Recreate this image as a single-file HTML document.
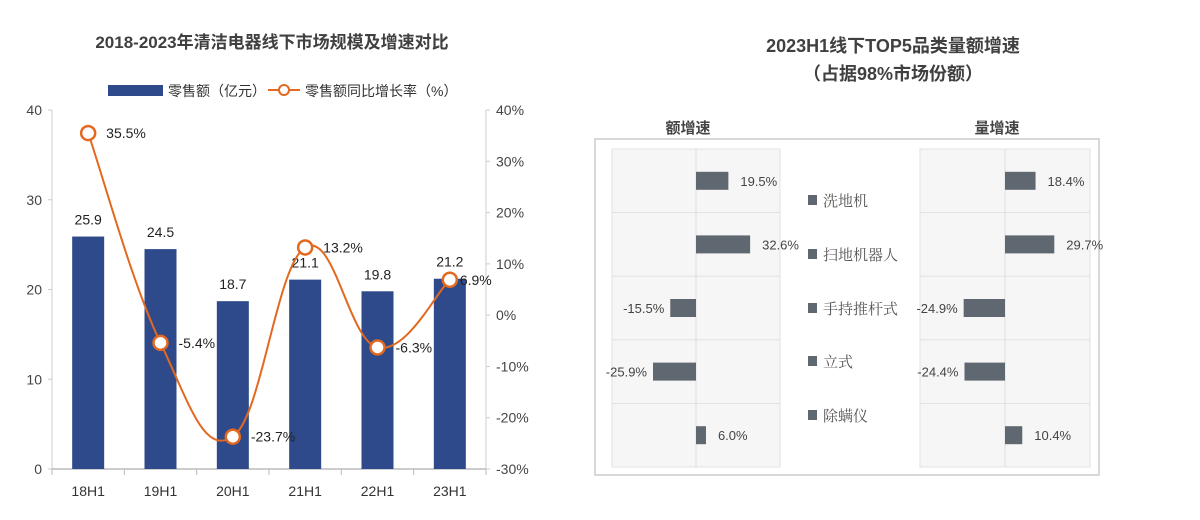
<!DOCTYPE html>
<html><head><meta charset="utf-8"><style>
body{margin:0;background:#fff;}
svg{display:block;font-family:"Liberation Sans","Noto Sans CJK SC",sans-serif;}
</style></head><body>
<svg id="c" width="1200" height="520" viewBox="0 0 1200 520">
<text x="272" y="48" text-anchor="middle" font-size="17" font-weight="bold" fill="#404040">2018-2023年清洁电器线下市场规模及增速对比</text>
<text x="893" y="52" text-anchor="middle" font-size="18" font-weight="bold" fill="#404040">2023H1线下TOP5品类量额增速</text>
<text x="893" y="80" text-anchor="middle" font-size="18" font-weight="bold" fill="#404040">（占据98%市场份额）</text>
<g>
<rect x="108" y="85" width="55" height="11" fill="#2f4a8a"/>
<text x="168" y="96" font-size="14" fill="#333">零售额（亿元）</text>
<line x1="268" y1="90" x2="300" y2="90" stroke="#e2691f" stroke-width="2"/>
<circle cx="284" cy="90" r="5" fill="#fff" stroke="#e2691f" stroke-width="2"/>
<text x="305" y="96" font-size="14" fill="#333">零售额同比增长率（%）</text>
</g>
<g id="left"></g>
<g id="right"></g>
</svg>
<script>
const categories=["18H1","19H1","20H1","21H1","22H1","23H1"];
const salesValues=[25.9,24.5,18.7,21.1,19.8,21.2];
const growthValues=[35.5,-5.4,-23.7,13.2,-6.3,6.9];
const leftTicks=[0,10,20,30,40];
const rightTicks=[-30,-20,-10,0,10,20,30,40];
const products=["洗地机","扫地机器人","手持推杆式","立式","除螨仪"];
const amountGrowth=[19.5,32.6,-15.5,-25.9,6.0];
const volumeGrowth=[18.4,29.7,-24.9,-24.4,10.4];

const NS="http://www.w3.org/2000/svg";
function mk(parent,tag,attrs,text){const e=document.createElementNS(NS,tag);for(const k in attrs)e.setAttribute(k,attrs[k]);if(text!==undefined)e.textContent=text;parent.appendChild(e);return e;}
const L=document.getElementById('left');
const x0=52,x1=486,yTop=110,yBot=469;
const yL=v=>yBot-(v/40)*(yBot-yTop);
const yR=v=>yBot-((v+30)/70)*(yBot-yTop);
const band=(x1-x0)/categories.length;
const xC=i=>x0+band*(i+0.5);
let e;
e=mk(L,'line',{x1:x0,y1:yTop,x2:x0,y2:yBot,stroke:'#ccc'});


e=mk(L,'line',{x1:x1,y1:yTop,x2:x1,y2:yBot,stroke:'#ccc'});


e=mk(L,'line',{x1:x0,y1:yBot,x2:x1,y2:yBot,stroke:'#bbb','stroke-width':1.5});


leftTicks.forEach(t=>{
 mk(L,'line',{x1:x0-4,y1:yL(t),x2:x0,y2:yL(t),stroke:'#ccc'});
 e=mk(L,'text',{x:x0-10,y:yL(t)+5,'text-anchor':'end','font-size':14,fill:'#444'},t);
 
 
});
rightTicks.forEach(t=>{
 mk(L,'line',{x1:x1,y1:yR(t),x2:x1+4,y2:yR(t),stroke:'#ccc'});
 e=mk(L,'text',{x:x1+10,y:yR(t)+5,'font-size':14,fill:'#444'},t+'%');
 
 
});
for(let i=0;i<=categories.length;i++)mk(L,'line',{x1:x0+band*i,y1:yBot,x2:x0+band*i,y2:yBot+6,stroke:'#bbb'});
categories.forEach((c,i)=>{
 e=mk(L,'text',{x:xC(i),y:496,'text-anchor':'middle','font-size':14,fill:'#333'},c);
 
 
 const v=salesValues[i];
 e=mk(L,'rect',{x:xC(i)-16,y:yL(v),width:32,height:yBot-yL(v),fill:'#2f4a8a'});
 
 
 e=mk(L,'text',{x:xC(i),y:yL(v)-12,'text-anchor':'middle','font-size':14,fill:'#222'},v.toFixed(1));
 
 
});
const pts=growthValues.map((v,i)=>[xC(i),yR(v)]);
let d='M'+pts[0][0]+','+pts[0][1];
for(let i=0;i<pts.length-1;i++){
 const p0=pts[Math.max(0,i-1)],p1=pts[i],p2=pts[i+1],p3=pts[Math.min(pts.length-1,i+2)];
 const t=0.2;
 d+=` C${p1[0]+(p2[0]-p0[0])*t},${p1[1]+(p2[1]-p0[1])*t} ${p2[0]-(p3[0]-p1[0])*t},${p2[1]-(p3[1]-p1[1])*t} ${p2[0]},${p2[1]}`;
}
e=mk(L,'path',{d:d,fill:'none',stroke:'#e2691f','stroke-width':2});


pts.forEach((p,i)=>{
 e=mk(L,'circle',{cx:p[0],cy:p[1],r:7,fill:'#fff',stroke:'#e2691f','stroke-width':2.5});
 
 
 e=mk(L,'text',{x:p[0]+(i==5?10:18),y:p[1]+5,'font-size':14,fill:'#222'},growthValues[i].toFixed(1)+'%');
 
 
});

const R=document.getElementById('right');
e=mk(R,'rect',{x:595,y:139,width:504,height:336,fill:'none',stroke:'#ccc','stroke-width':1.5});


const gTop=149,gBot=467,rowH=(gBot-gTop)/products.length;
const scale=1.66;
function panel(name,gx0,gx1,zero,vals,title){
 e=mk(R,'text',{x:(gx0+gx1)/2-8,y:133,'text-anchor':'middle','font-size':15,'font-weight':'bold',fill:'#444'},title);
 
 
 e=mk(R,'rect',{x:gx0,y:gTop,width:gx1-gx0,height:gBot-gTop,fill:'#f6f6f6',stroke:'#e2e2e2'});
 
 
 for(let i=1;i<products.length;i++)mk(R,'line',{x1:gx0,y1:gTop+rowH*i,x2:gx1,y2:gTop+rowH*i,stroke:'#e2e2e2'});
 mk(R,'line',{x1:zero,y1:gTop,x2:zero,y2:gBot,stroke:'#ddd'});
 vals.forEach((v,i)=>{
  const cy=gTop+rowH*(i+0.5);
  const w=Math.abs(v)*scale;
  e=mk(R,'rect',{x:v>=0?zero:zero-w,y:cy-9,width:w,height:18,fill:'#5f6770'});
  
  
  const s=v.toFixed(1)+'%';
  e=mk(R,'text',{x:v>=0?zero+w+12:zero-w-6,y:cy+5,'text-anchor':v>=0?'start':'end','font-size':13,fill:'#444'},s);
  
  
 });
}
panel('amount-growth',612,780,696,amountGrowth,'额增速');
panel('volume-growth',920,1090,1005,volumeGrowth,'量增速');
const legY=[200,254,308,361,415];
products.forEach((p,i)=>{
 e=mk(R,'rect',{x:808,y:legY[i]-5,width:9,height:10,fill:'#5f6770'});
 
 
 e=mk(R,'text',{x:823,y:legY[i]+6,'font-size':15,fill:'#555','font-family':'"Liberation Serif","Noto Serif CJK SC",serif'},p);
 
 
});
</script>
</body></html>
